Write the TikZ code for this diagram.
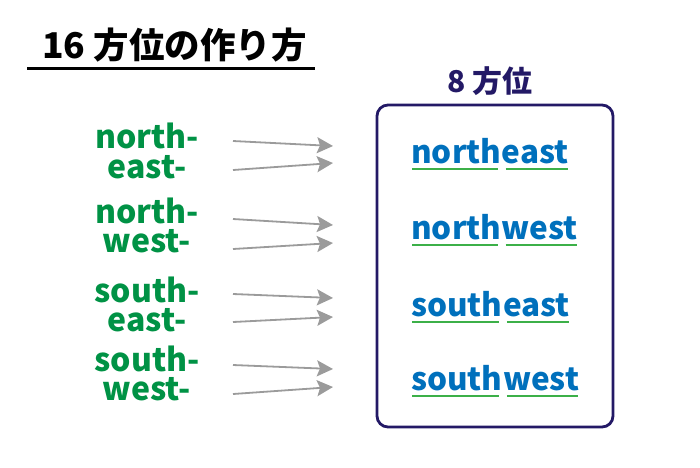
\documentclass[tikz,border=0pt]{standalone}
\usepackage{fontspec}
\setmainfont{Noto Sans CJK JP}
\usetikzlibrary{arrows.meta}
\definecolor{lgreen}{RGB}{0,146,69}
\definecolor{wblue}{RGB}{0,112,188}
\definecolor{ulgreen}{RGB}{60,176,72}
\definecolor{navy}{RGB}{35,25,102}
\definecolor{agray}{RGB}{155,155,155}
\tikzset{
  lbl/.style={inner sep=0pt, anchor=base, align=center, text=lgreen, font=\bfseries\fontsize{32}{29.5}\selectfont},
  wrd/.style={inner sep=0pt, text=wblue, font=\bfseries\fontsize{31.5}{32}\selectfont},
  ul/.style={draw=ulgreen, line width=2.6pt},
  arr/.style={draw=agray, line width=1.8pt, -{Stealth[length=16pt,width=16pt,inset=3pt]}},
  box/.style={draw=navy, line width=2.8pt, rounded corners=11pt}
}
\begin{document}
\begin{tikzpicture}[x=1pt,y=-1pt]
\useasboundingbox (0,0) rectangle (700,467);
% title
\node[inner sep=0pt, anchor=base west, font=\bfseries\fontsize{35.5}{36}\selectfont] (title) at (42,58) {16 方位の作り方};
\coordinate (tl) at (27,68.5);
\coordinate (tr) at (315,68.5);
\draw[line width=2.2pt] (tl) -- (tr);
% left labels (anchor = baseline of the second line)
\node[lbl] (p1) at (147,178) {north-\\east-};
\node[lbl] (p2) at (147,252.5) {north-\\west-};
\node[lbl] (p3) at (147,331.5) {south-\\east-};
\node[lbl] (p4) at (147,400.5) {south-\\west-};
% arrows
\coordinate (a1s) at (233,141); \coordinate (a1e) at (333,146);
\coordinate (a2s) at (233,170); \coordinate (a2e) at (333,163);
\coordinate (a3s) at (233,219); \coordinate (a3e) at (333,225);
\coordinate (a4s) at (233,249); \coordinate (a4e) at (333,243);
\coordinate (a5s) at (233,294); \coordinate (a5e) at (333,298);
\coordinate (a6s) at (233,322); \coordinate (a6e) at (333,317);
\coordinate (a7s) at (233,365); \coordinate (a7e) at (333,369);
\coordinate (a8s) at (233,394); \coordinate (a8e) at (333,387);
\foreach \i in {1,...,8} {\draw[arr] (a\i s) -- (a\i e);}
% box
\node[inner sep=0pt, anchor=base, text=navy, font=\bfseries\fontsize{30}{30}\selectfont] (h8) at (490,92) {8 方位};
\coordinate (bx1) at (377,105);
\coordinate (bx2) at (613,427);
\draw[box] (bx1) rectangle (bx2);
% words
\node[wrd, anchor=base west] (w1a) at (411,163) {north};
\node[wrd, anchor=base west] (w1b) at (w1a.base east) {east};
\node[wrd, anchor=base west] (w2a) at (411,239) {north};
\node[wrd, anchor=base west] (w2b) at (w2a.base east) {west};
\node[wrd, anchor=base west] (w3a) at (411,316) {south};
\node[wrd, anchor=base west] (w3b) at (w3a.base east) {east};
\node[wrd, anchor=base west] (w4a) at (411,390) {south};
\node[wrd, anchor=base west] (w4b) at (w4a.base east) {west};
\foreach \w in {1,2,3,4} {
  \draw[ul] ([xshift=1pt,yshift=-6pt]w\w a.base west) -- ([xshift=-4pt,yshift=-6pt]w\w a.base east);
  \draw[ul] ([xshift=4pt,yshift=-6pt]w\w b.base west) -- ([xshift=-1pt,yshift=-6pt]w\w b.base east);
}
\end{tikzpicture}
\end{document}
